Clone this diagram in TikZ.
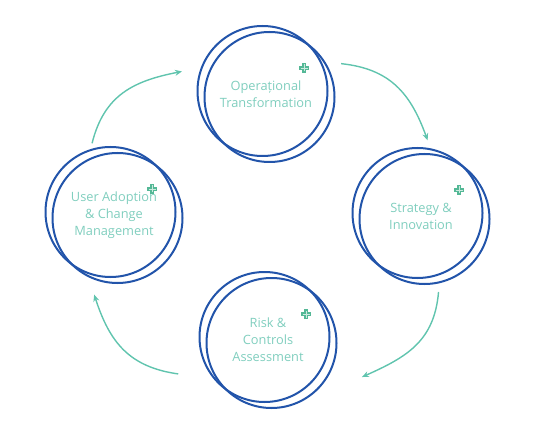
\documentclass[tikz,border=0pt]{standalone}
\usepackage{fontspec}
\setmainfont{Open Sans}
\usetikzlibrary{%
  arrows.meta,% wg. Stealth
  calc%
}
\definecolor{ringblue}{RGB}{34,84,170}
\definecolor{labelteal}{RGB}{128,206,190}
\definecolor{flowteal}{RGB}{96,196,174}
\definecolor{markteal}{RGB}{84,184,150}

\begin{document}
\begin{tikzpicture}[x=1pt, y=1pt,
  ring/.style = {draw=ringblue, line width=2pt},
  cyc/.style = {circle, minimum size=160pt, inner sep=0pt,
    align=center, text=labelteal,
    font=\fontsize{12.8}{17}\selectfont,
    path picture={
      \draw[ring] ([shift={(-3.5pt,3pt)}]path picture bounding box.center) circle (65pt);
      \draw[ring] ([shift={(3.5pt,-3pt)}]path picture bounding box.center) circle (65pt);
      \draw[markteal, line width=3.6pt] ([shift={(38pt,26pt)}]path picture bounding box.center)
        +(-5pt,0) -- +(5pt,0) +(0,-5pt) -- +(0,5pt);
      \draw[white!70!markteal, line width=0.4pt] ([shift={(38pt,26pt)}]path picture bounding box.center)
        +(-3.5pt,0) -- +(3.5pt,0) +(0,-3.5pt) -- +(0,3.5pt);
    }},
  flow/.style = {draw=flowteal, line width=1.4pt,
    -{Stealth[length=7pt,width=6pt]}}]
  \useasboundingbox (0,0) rectangle (540,434);

  \node[cyc] (ops)   at (266,340) {Operațional\\Transformation};
  \node[cyc] (strat) at (421,218) {Strategy \&\\Innovation};
  \node[cyc] (risk)  at (268,94)  {Risk \&\\Controls\\Assessment};
  \node[cyc] (user)  at (114,219) {User Adoption\\\& Change\\Management};

  % cycle
  \draw[flow] ($(ops)+(22:81)$)    to[out=-6, in=110, looseness=1.1]  ($(strat)+(85:76)$);
  \draw[flow] ($(strat)+(-77:78)$) to[out=-95, in=24, looseness=1.1]  ($(risk)+(-21.5:101)$);
  \draw[flow] ($(risk)+(200.7:96)$) to[out=172, in=-72, looseness=1.1] ($(user)+(-104:82)$);
  \draw[flow] ($(user)+(107:75)$)  to[out=76, in=-169, looseness=1.1] ($(ops)+(165:87)$);
\end{tikzpicture}
\end{document}
